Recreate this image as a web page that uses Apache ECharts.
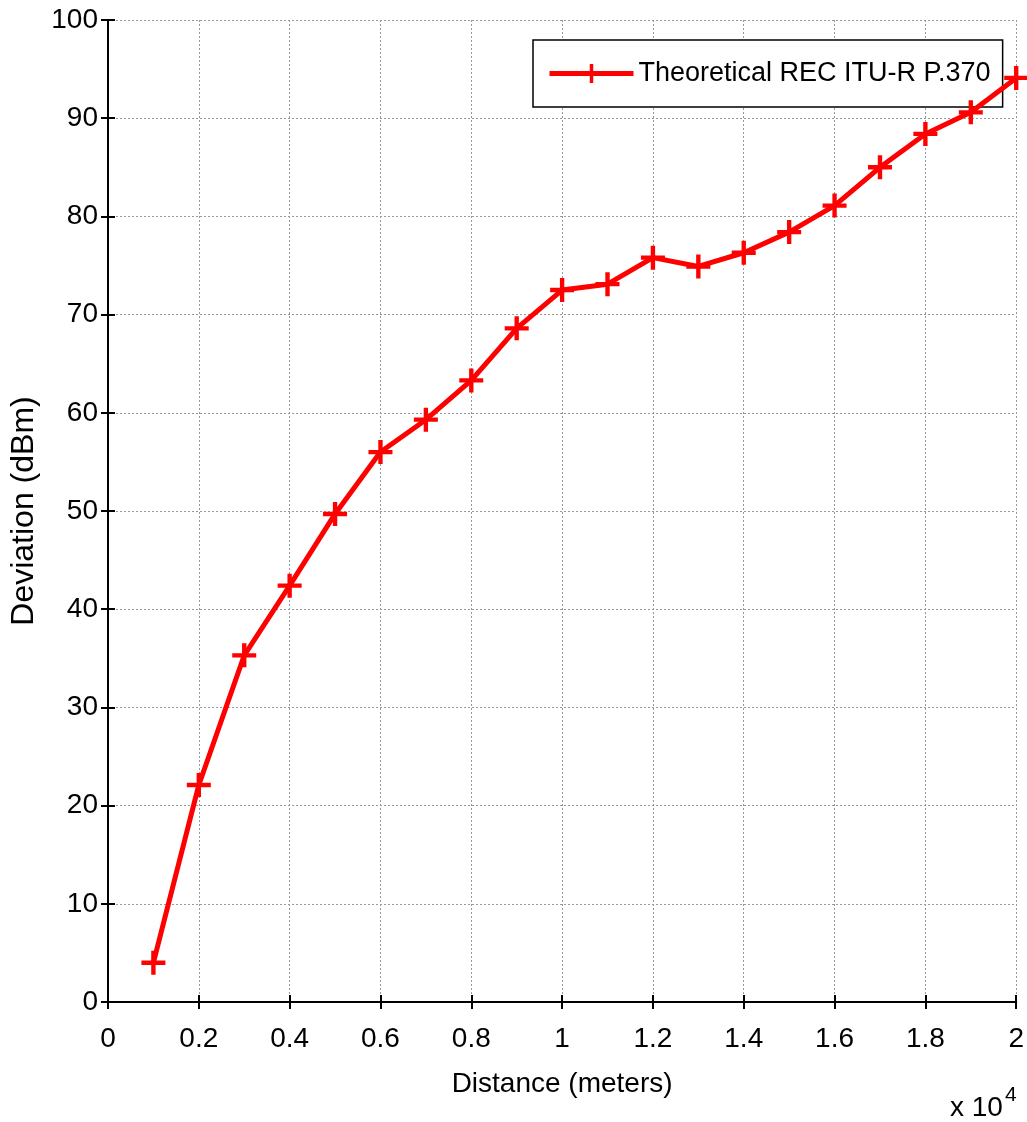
<!DOCTYPE html>
<html>
<head>
<meta charset="utf-8">
<script src="https://cdn.jsdelivr.net/npm/echarts@6/dist/echarts.min.js"></script>
<style>
  html, body { margin: 0; padding: 0; background: #fff; }
  #chart { width: 1027px; height: 1122px; }
</style>
</head>
<body>
<div id="chart"></div>
<script>
// distance in meters, deviation in dBm
var distances = [1000, 2000, 3000, 4000, 5000, 6000, 7000, 8000, 9000, 10000,
  11000, 12000, 13000, 14000, 15000, 16000, 17000, 18000, 19000, 20000];
var deviation = [4.0, 22.1, 35.3, 42.4, 49.7, 56.0, 59.3, 63.3, 68.6, 72.5,
  73.1, 75.8, 74.9, 76.3, 78.4, 81.1, 85.0, 88.4, 90.6, 94.1];
var seriesName = 'Theoretical REC ITU-R P.370';

var font = '"Liberation Sans", Arial, sans-serif';
var plus = 'path://M9,0 H13 V9 H22 V13 H13 V22 H9 V13 H0 V9 H9 Z';

var chart = echarts.init(document.getElementById('chart'));

var points = distances.map(function (d, i) { return [d, deviation[i]]; });

var gridLine = { show: true, lineStyle: { color: '#999', type: [2, 2], width: 1 } };

var option = {
  backgroundColor: '#fff',
  animation: false,
  grid: { left: 108, right: 9, top: 20, bottom: 120 },
  legend: {
    data: [seriesName],
    left: 533,
    top: 40,
    padding: [20, 12, 20, 14],
    backgroundColor: '#fff',
    borderColor: '#000',
    borderWidth: 1.5,
    borderRadius: 0,
    itemWidth: 84,
    itemHeight: 24,
    itemGap: 10,
    lineStyle: { width: 5 },
    textStyle: { fontFamily: font, fontSize: 27, color: '#000', padding: [0, 4, 0, 0] }
  },
  xAxis: [{
    type: 'value',
    min: 0, max: 20000, interval: 2000,
    name: 'Distance (meters)',
    nameLocation: 'middle',
    nameGap: 68,
    nameTextStyle: { fontFamily: font, fontSize: 28, color: '#000' },
    axisLine: { show: true, onZero: false, lineStyle: { color: '#000', width: 2 } },
    axisTick: { show: true, inside: true, length: 7, lineStyle: { color: '#000', width: 2 } },
    axisLabel: {
      margin: 23, fontFamily: font, fontSize: 28, color: '#000',
      formatter: function (v) { return String(+(v / 10000).toFixed(1)); }
    },
    splitLine: gridLine
  }, {
    type: 'value', position: 'top',
    min: 0, max: 20000, interval: 2000,
    axisLine: { show: true, lineStyle: { color: '#000', width: 2 } },
    axisTick: { show: true, inside: true, length: 7, lineStyle: { color: '#000', width: 2 } },
    axisLabel: { show: false },
    splitLine: { show: false }
  }],
  yAxis: [{
    type: 'value',
    min: 0, max: 100, interval: 10,
    name: 'Deviation (dBm)',
    nameLocation: 'middle',
    nameGap: 68,
    nameTextStyle: { fontFamily: font, fontSize: 32, color: '#000' },
    axisLine: { show: true, lineStyle: { color: '#000', width: 2 } },
    axisTick: { show: true, inside: true, length: 7, lineStyle: { color: '#000', width: 2 } },
    axisLabel: { margin: 10, fontFamily: font, fontSize: 28, color: '#000' },
    splitLine: gridLine
  }, {
    type: 'value', position: 'right',
    min: 0, max: 100, interval: 10,
    axisLine: { show: true, lineStyle: { color: '#000', width: 2 } },
    axisTick: { show: true, inside: true, length: 7, lineStyle: { color: '#000', width: 2 } },
    axisLabel: { show: false },
    splitLine: { show: false }
  }],
  graphic: [{
    type: 'text',
    left: 950,
    top: 1085,
    style: {
      text: 'x 10{s|4}',
      rich: { s: { fontSize: 21, verticalAlign: 'top', padding: [0, 0, 26, 2], fontFamily: font } },
      fontFamily: font,
      fontSize: 28,
      fill: '#000'
    }
  }],
  series: [{
    name: seriesName,
    type: 'line',
    data: points,
    clip: false,
    symbol: plus,
    symbolSize: 24,
    showAllSymbol: true,
    lineStyle: { color: '#ff0000', width: 5 },
    itemStyle: { color: '#ff0000', borderWidth: 0 },
    z: 5
  }]
};

chart.setOption(option);
</script>
</body>
</html>
